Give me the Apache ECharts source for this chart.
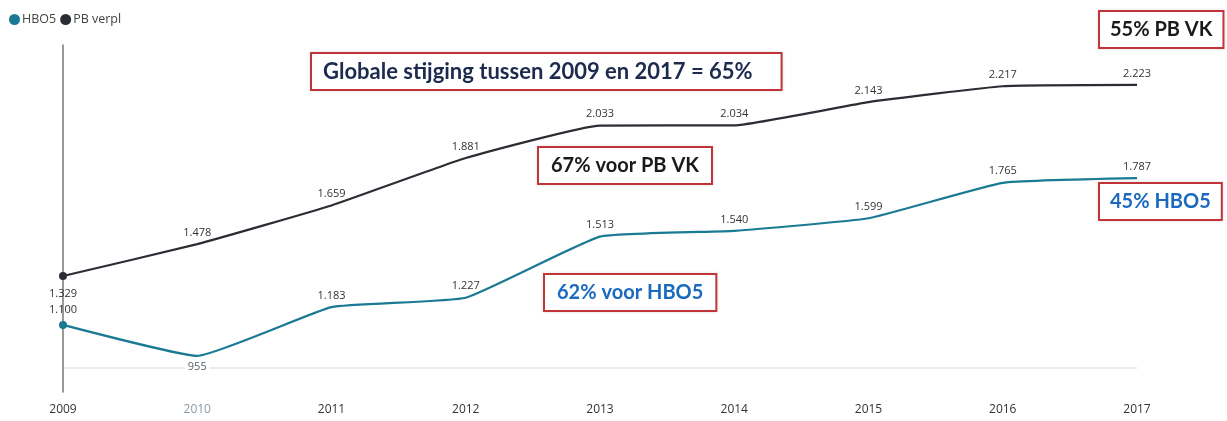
<!DOCTYPE html>
<html>
<head>
<meta charset="utf-8">
<script src="https://cdn.jsdelivr.net/npm/echarts@6/dist/echarts.min.js"></script>
<style>
  html, body { margin: 0; padding: 0; background: #fff; }
  #main { width: 1227px; height: 421px; }
</style>
</head>
<body>
<div id="main"></div>
<script>
var years = ['2009', '2010', '2011', '2012', '2013', '2014', '2015', '2016', '2017']
var hbo5 = [1100, 955, 1183, 1227, 1513, 1540, 1599, 1765, 1787]
var pbVerpl = [1329, 1478, 1659, 1881, 2033, 2034, 2143, 2217, 2223]
var baseLine = 900

var chart = echarts.init(document.getElementById('main'))

// 1.329 style thousands separator
function fmt (v) {
  return String(v).replace(/\B(?=(\d{3})+(?!\d))/g, '.')
}

function firstDotOnly (val, params) {
  return params.dataIndex === 0 ? 8 : 0
}

// callout box with red border
function box (x, y, text, color, size, pad) {
  return {
    type: 'text',
    left: x,
    top: y,
    z: 100,
    style: {
      text: text,
      fill: color,
      font: 'bold ' + (size || 20) + 'px Lato, sans-serif',
      backgroundColor: '#fff',
      borderColor: '#c8363d',
      borderWidth: 2,
      padding: pad || [8, 10, 7, 10],
      shadowColor: 'rgba(0,0,0,0.15)',
      shadowBlur: 3
    }
  }
}

chart.setOption({
  animation: false,
  textStyle: { fontFamily: 'Open Sans, sans-serif' },
  legend: {
    left: 4,
    top: 8,
    itemWidth: 11,
    itemHeight: 11,
    itemGap: 4,
    icon: 'circle',
    textStyle: { fontSize: 12.5, color: '#444', padding: [0, 0, 0, -3] },
    data: ['HBO5', 'PB verpl']
  },
  grid: { left: 63, right: 90, top: 45, bottom: 29 },
  xAxis: {
    type: 'category',
    data: years,
    boundaryGap: false,
    axisLine: { show: false },
    axisTick: { show: false },
    axisLabel: {
      margin: 12,
      fontSize: 12,
      color: '#333',
      formatter: function (v) {
        return v === '2010' ? '{g|' + v + '}' : v
      },
      rich: { g: { color: '#8a9aa6', fontSize: 12 } }
    },
    splitLine: { show: false }
  },
  yAxis: {
    type: 'value',
    min: 786,
    max: 2410,
    axisLine: { show: true, lineStyle: { color: '#777', width: 1.5 } },
    axisTick: { show: false },
    axisLabel: { show: false },
    splitLine: { show: false }
  },
  series: [
    {
      name: 'HBO5',
      type: 'line',
      data: hbo5.map(function (v, i) {
        return i === 1
          ? { value: v, label: { position: 'bottom', distance: 5, color: '#55636e', backgroundColor: '#fff', padding: [0, 3] } }
          : v
      }),
      smooth: 0.12,
      symbol: 'circle',
      symbolSize: firstDotOnly,
      showAllSymbol: true,
      itemStyle: { color: '#1b7a93' },
      lineStyle: { width: 2.2, color: '#1b7a93' },
      label: {
        show: true,
        position: 'top',
        distance: 6,
        fontSize: 11,
        color: '#333',
        formatter: function (p) { return fmt(p.value) }
      },
      labelLayout: { hideOverlap: false },
      markLine: {
        z: 0,
        silent: true,
        symbol: 'none',
        label: { show: false },
        lineStyle: { color: '#ececec', width: 2, type: 'solid' },
        data: [{ yAxis: baseLine }]
      }
    },
    {
      name: 'PB verpl',
      type: 'line',
      data: pbVerpl.map(function (v, i) {
        return i === 0 ? { value: v, label: { position: 'bottom', distance: 8 } } : v
      }),
      smooth: 0.12,
      symbol: 'circle',
      symbolSize: firstDotOnly,
      showAllSymbol: true,
      itemStyle: { color: '#2a2d33' },
      lineStyle: { width: 2.2, color: '#2a2d33' },
      label: {
        show: true,
        position: 'top',
        distance: 6,
        fontSize: 11,
        color: '#333',
        formatter: function (p) { return fmt(p.value) }
      }
    }
  ],
  graphic: [
    box(310, 52, 'Globale stijging tussen 2009 en 2017 = 65%', '#1c2a4d', 22, [7, 28, 6, 11]),
    box(1098, 10, '55% PB VK', '#1a1a1a'),
    box(537, 146, '67% voor PB VK', '#1a1a1a', 20, [8, 12, 7, 12]),
    box(543, 273, '62% voor HBO5', '#1a6abf', 20, [8, 12, 7, 12]),
    box(1098, 182, '45% HBO5', '#1a6abf')
  ]
})
</script>
</body>
</html>
